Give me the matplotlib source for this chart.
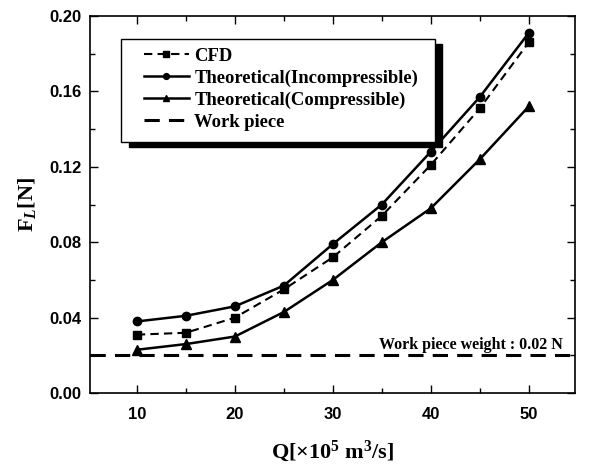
import matplotlib
matplotlib.use("Agg")
import matplotlib.pyplot as plt
from matplotlib.ticker import MultipleLocator, FormatStrFormatter
from matplotlib.patches import Rectangle

plt.rcParams["mathtext.fontset"] = "custom"
plt.rcParams["mathtext.rm"] = "Liberation Serif:bold"
plt.rcParams["mathtext.bf"] = "Liberation Serif:bold"
plt.rcParams["mathtext.it"] = "Liberation Serif:italic:bold"

Q = [10, 15, 20, 25, 30, 35, 40, 45, 50]
cfd = [0.031, 0.032, 0.040, 0.055, 0.072, 0.094, 0.121, 0.151, 0.186]
incomp = [0.038, 0.041, 0.046, 0.057, 0.079, 0.100, 0.128, 0.157, 0.191]
comp = [0.023, 0.026, 0.030, 0.043, 0.060, 0.080, 0.098, 0.124, 0.152]
work_piece = 0.02
labels = ["CFD", "Theoretical(Incompressible)", "Theoretical(Compressible)", "Work piece"]
annot = "Work piece weight : 0.02 N"
xticks = [10, 20, 30, 40, 50]

fig = plt.figure(figsize=(6.07, 4.68), dpi=100)
ax = fig.add_axes([0.148, 0.160, 0.799, 0.806])

serif = "Liberation Serif"
sans = "Liberation Sans"

ax.plot(Q, cfd, ls=(0, (4, 2.5)), color="black", lw=1.5, marker="s", ms=5.5, label=labels[0])
ax.plot(Q, incomp, ls="-", color="black", lw=1.8, marker="o", ms=6, label=labels[1])
ax.plot(Q, comp, ls="-", color="black", lw=1.8, marker="^", ms=6.5, label=labels[2])
ax.axhline(work_piece, ls=(0, (5, 3)), color="black", lw=2.2, label=labels[3])

ax.text(0.975, 0.117, annot, transform=ax.transAxes, ha="right", va="baseline",
        fontfamily=serif, fontweight="bold", fontsize=11.5)

ax.set_xlim(5.2, 54.7)
ax.set_ylim(0, 0.20)
ax.xaxis.set_major_locator(MultipleLocator(10))
ax.xaxis.set_minor_locator(MultipleLocator(5))
ax.yaxis.set_major_locator(MultipleLocator(0.04))
ax.yaxis.set_minor_locator(MultipleLocator(0.02))
ax.tick_params(which="both", direction="in", top=True, right=True, width=1.0)
ax.tick_params(which="major", length=6)
ax.tick_params(which="minor", length=3.5)
for s in ax.spines.values():
    s.set_linewidth(1.2)
ax.set_xticks(xticks)
ax.set_xticklabels([str(v) for v in xticks])
ax.yaxis.set_major_formatter(FormatStrFormatter("%.2f"))
for lab in ax.get_xticklabels() + ax.get_yticklabels():
    lab.set_fontfamily(sans)
    lab.set_fontweight("bold")
    lab.set_fontsize(12)
ax.tick_params(axis="x", pad=10)
ax.tick_params(axis="y", pad=6)

ax.set_xlabel(r"Q[$\times$10$^{5}$ m$^{3}$/s]", fontfamily=serif,
              fontweight="bold", fontsize=16, labelpad=12)
ax.set_ylabel(r"F$_{\mathit{L}}$[N]", fontfamily=serif,
              fontweight="bold", fontsize=16, labelpad=8)

# legend frame with hard shadow (axes fraction coordinates)
fx0, fy0, fw, fh = 0.064, 0.666, 0.647, 0.273
ax.add_patch(Rectangle((fx0 + 0.016, fy0 - 0.014), fw, fh, transform=ax.transAxes,
                       facecolor="black", edgecolor="black", zorder=5))
ax.add_patch(Rectangle((fx0, fy0), fw, fh, transform=ax.transAxes,
                       facecolor="white", edgecolor="black", lw=1.0, zorder=6))

leg = ax.legend(loc="upper left", bbox_to_anchor=(0.111, 0.915), frameon=False,
                prop={"family": serif, "weight": "bold", "size": 13.4},
                handlelength=2.45, handletextpad=0.28, labelspacing=0.25,
                borderpad=0, borderaxespad=0, markerscale=0.7)
leg.set_zorder(7)

fig.savefig("out.png", dpi=100)
